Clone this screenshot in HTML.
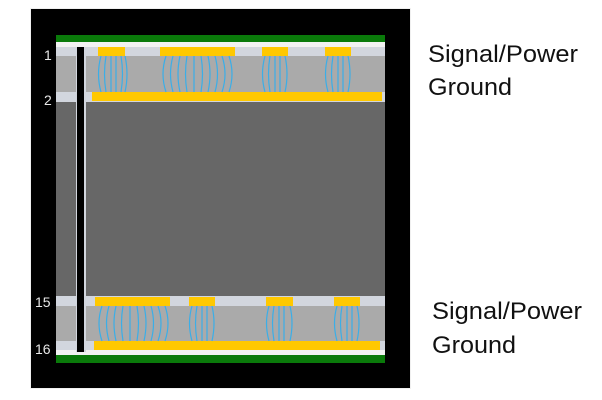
<!DOCTYPE html>
<html><head><style>body{margin:0;background:#fff}svg{display:block}</style></head><body>
<svg width="602" height="400" viewBox="0 0 602 400" xmlns="http://www.w3.org/2000/svg" font-family="'Liberation Sans', sans-serif">
<rect x="0" y="0" width="602" height="400" fill="#fff"/>
<rect x="30" y="8" width="381" height="381" fill="#f0f0f0"/>
<rect x="31" y="9" width="379" height="379" fill="#000"/>
<rect x="56" y="35" width="329" height="7" fill="#0a7a0a"/>
<rect x="56" y="42" width="329" height="5" fill="#f2f2f2"/>
<rect x="56" y="47" width="329" height="9" fill="#d2d6de"/>
<rect x="56" y="56" width="329" height="36" fill="#aaaaaa"/>
<rect x="56" y="92" width="329" height="10" fill="#d2d6de"/>
<rect x="56" y="102" width="329" height="194" fill="#676767"/>
<rect x="56" y="296" width="329" height="10" fill="#d2d6de"/>
<rect x="56" y="306" width="329" height="35" fill="#aaaaaa"/>
<rect x="56" y="341" width="329" height="10" fill="#d2d6de"/>
<rect x="56" y="350" width="329" height="5" fill="#f2f2f2"/>
<rect x="56" y="355" width="329" height="8" fill="#0a7a0a"/>
<rect x="76" y="47" width="10" height="305" fill="#d2d6de"/>
<rect x="77" y="47" width="7" height="305" fill="#000"/>
<g fill="#ffc800">
<rect x="98" y="47" width="27" height="9"/><rect x="160" y="47" width="75" height="9"/>
<rect x="262" y="47" width="26" height="9"/><rect x="325" y="47" width="26" height="9"/>
<rect x="92" y="92" width="290" height="9"/>
<rect x="95" y="297" width="75" height="9"/><rect x="189" y="297" width="26" height="9"/>
<rect x="266" y="297" width="27" height="9"/><rect x="334" y="297" width="26" height="9"/>
<rect x="94" y="341" width="286" height="9"/>
</g>
<g stroke="#3aaee8" stroke-width="1.2" fill="none">
<path d="M101 56 Q96 74 101 92M106 56 Q103 74 106 92M111 56 L111 92M116 56 L116 92M121 56 Q124 74 121 92M125 56 Q129 74 125 92"/>
<path d="M166 56 Q160 74 166 92M173 56 Q168 74 173 92M180 56 Q176 74 180 92M187 56 Q184 74 187 92M194 56 L194 92M201 56 Q204 74 201 92M208 56 Q212 74 208 92M215 56 Q220 74 215 92M222 56 Q228 74 222 92M229 56 Q235 74 229 92"/>
<path d="M265 56 Q260 74 265 92M270 56 Q267 74 270 92M275 56 L275 92M280 56 L280 92M285 56 Q289 74 285 92"/>
<path d="M328 56 Q323 74 328 92M333 56 Q330 74 333 92M338 56 L338 92M343 56 L343 92M348 56 Q352 74 348 92"/>
<path d="M102 306 Q96 323 102 341M109 306 Q104 323 109 341M116 306 Q112 323 116 341M123 306 Q120 323 123 341M130 306 L130 341M137 306 Q140 323 137 341M144 306 Q148 323 144 341M151 306 Q156 323 151 341M158 306 Q164 323 158 341M165 306 Q171 323 165 341"/>
<path d="M192 306 Q187 323 192 341M197 306 Q194 323 197 341M202 306 L202 341M207 306 L207 341M212 306 Q216 323 212 341"/>
<path d="M269 306 Q264 323 269 341M274 306 Q271 323 274 341M279 306 L279 341M284 306 L284 341M290 306 Q294 323 290 341"/>
<path d="M337 306 Q332 323 337 341M342 306 Q339 323 342 341M347 306 L347 341M352 306 L352 341M357 306 Q361 323 357 341"/>
</g>
<g fill="#e8e8e8" font-size="14">
<text x="44" y="60">1</text><text x="44" y="105">2</text>
<text x="35" y="307">15</text><text x="35" y="354">16</text>
</g>
<g fill="#111" font-size="24">
<text x="428" y="62" textLength="150" lengthAdjust="spacingAndGlyphs">Signal/Power</text>
<text x="428" y="95" textLength="84" lengthAdjust="spacingAndGlyphs">Ground</text>
<text x="432" y="319" textLength="150" lengthAdjust="spacingAndGlyphs">Signal/Power</text>
<text x="432" y="353" textLength="84" lengthAdjust="spacingAndGlyphs">Ground</text>
</g>
</svg>
</body></html>
